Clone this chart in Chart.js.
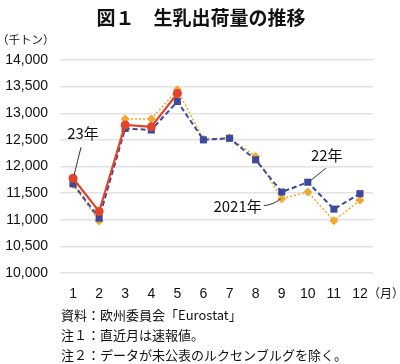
<!DOCTYPE html>
<html>
<head>
<meta charset="utf-8">
<script src="https://cdn.jsdelivr.net/npm/chart.js@4/dist/chart.umd.min.js"></script>
<style>
html,body{margin:0;padding:0;background:#fff;}
canvas{display:block;}
</style>
</head>
<body>
<canvas id="c" width="400" height="364"></canvas>
<script>
const months = ['1','2','3','4','5','6','7','8','9','10','11','12'];
const y2023 = [11780, 11155, 12780, 12745, 13370, null, null, null, null, null, null, null];
const y2022 = [11675, 11030, 12715, 12685, 13220, 12500, 12530, 12125, 11520, 11705, 11200, 11490];
const y2021 = [11660, 10975, 12890, 12890, 13440, 12510, 12540, 12190, 11395, 11520, 10980, 11365];
const yTicks = [10000, 10500, 11000, 11500, 12000, 12500, 13000, 13500, 14000];
const titleText = '図１　生乳出荷量の推移';
const unitText = '（千トン）';
const monthUnit = '（月）';
const notes = ['資料：欧州委員会「Eurostat」', '注１：直近月は速報値。', '注２：データが未公表のルクセンブルグを除く。'];
const labels = [
  {text: '23年', ds: 0, idx: 0},
  {text: '22年', ds: 1, idx: 9},
  {text: '2021年', ds: 2, idx: 8}
];

const RED = '#e2442a', BLUE = '#3b4a9c', ORANGE = '#f0a830';
const CJK = '"Noto Sans CJK JP", sans-serif';
const NUM = '"Liberation Sans", Arial, sans-serif';

const extras = {
  id: 'extras',
  afterDraw(chart) {
    const ctx = chart.ctx;
    ctx.save();
    // title
    ctx.fillStyle = '#111';
    ctx.font = 'bold 19px ' + CJK;
    ctx.textAlign = 'center';
    ctx.textBaseline = 'middle';
    ctx.fillText(titleText, 201, 18);
    // unit
    ctx.font = '11.5px ' + CJK;
    ctx.textAlign = 'left';
    ctx.fillText(unitText, -3, 40);
    // month unit
    ctx.font = '12px ' + CJK;
    ctx.fillText(monthUnit, 368, 293);
    // notes
    ctx.font = '13px ' + CJK;
    notes.forEach((n, i) => ctx.fillText(n, 61, 315 + i * 20));
    // annotations
    ctx.strokeStyle = '#333';
    ctx.lineWidth = 1;
    ctx.font = '15px ' + CJK;
    labels.forEach(l => {
      const p = chart.getDatasetMeta(l.ds).data[l.idx];
      const x = p.x, y = p.y;
      ctx.beginPath();
      if (l.ds === 0) {
        ctx.moveTo(x + 1, y - 3); ctx.lineTo(x + 8, y - 31);
        ctx.stroke();
        ctx.textAlign = 'center';
        ctx.fillText(l.text, x + 10, y - 45);
      } else if (l.ds === 1) {
        ctx.moveTo(x + 2, y - 1); ctx.lineTo(x + 18, y - 14);
        ctx.stroke();
        ctx.textAlign = 'center';
        ctx.fillText(l.text, x + 19, y - 27);
      } else {
        ctx.moveTo(x - 1, y); ctx.quadraticCurveTo(x - 8, y + 6, x - 18, y + 7);
        ctx.stroke();
        ctx.textAlign = 'right';
        ctx.fillText(l.text, x - 20, y + 8);
      }
    });
    ctx.restore();
  }
};

new Chart(document.getElementById('c'), {
  type: 'line',
  data: {
    labels: months,
    datasets: [
      {label: '23年', data: y2023, borderColor: RED, backgroundColor: RED, borderWidth: 2.2,
       pointStyle: 'circle', pointRadius: 4.5, pointBorderWidth: 0},
      {label: '22年', data: y2022, borderColor: BLUE, backgroundColor: BLUE, borderWidth: 2,
       borderDash: [5, 3], pointStyle: 'rect', pointRadius: 5, pointBorderWidth: 0},
      {label: '2021年', data: y2021, borderColor: ORANGE, backgroundColor: ORANGE, borderWidth: 1.5,
       borderDash: [2, 2], pointStyle: 'rectRot', pointRadius: 4.5, pointBorderWidth: 0}
    ]
  },
  options: {
    responsive: false,
    animation: false,
    devicePixelRatio: 1,
    layout: {padding: {top: 60, right: 27, bottom: 61, left: 0}},
    plugins: {legend: {display: false}, tooltip: {enabled: false}, title: {display: false}},
    elements: {line: {tension: 0}},
    scales: {
      x: {
        offset: true,
        grid: {display: false, drawTicks: false},
        border: {display: false},
        ticks: {color: '#111', font: {family: NUM, size: 14}, padding: 13, maxRotation: 0},
        afterFit(s) { s.height = 30; }
      },
      y: {
        min: 10000, max: 14000,
        afterBuildTicks(s) { s.ticks = yTicks.map(v => ({value: v})); },
        grid: {color: '#e2e2e2', lineWidth: 1.5, drawTicks: false},
        border: {display: false},
        ticks: {color: '#111', font: {family: NUM, size: 14}, padding: 12,
                callback: v => v.toLocaleString('en-US')},
        afterFit(s) { s.width = 60; }
      }
    }
  },
  plugins: [extras]
});
</script>
</body>
</html>
